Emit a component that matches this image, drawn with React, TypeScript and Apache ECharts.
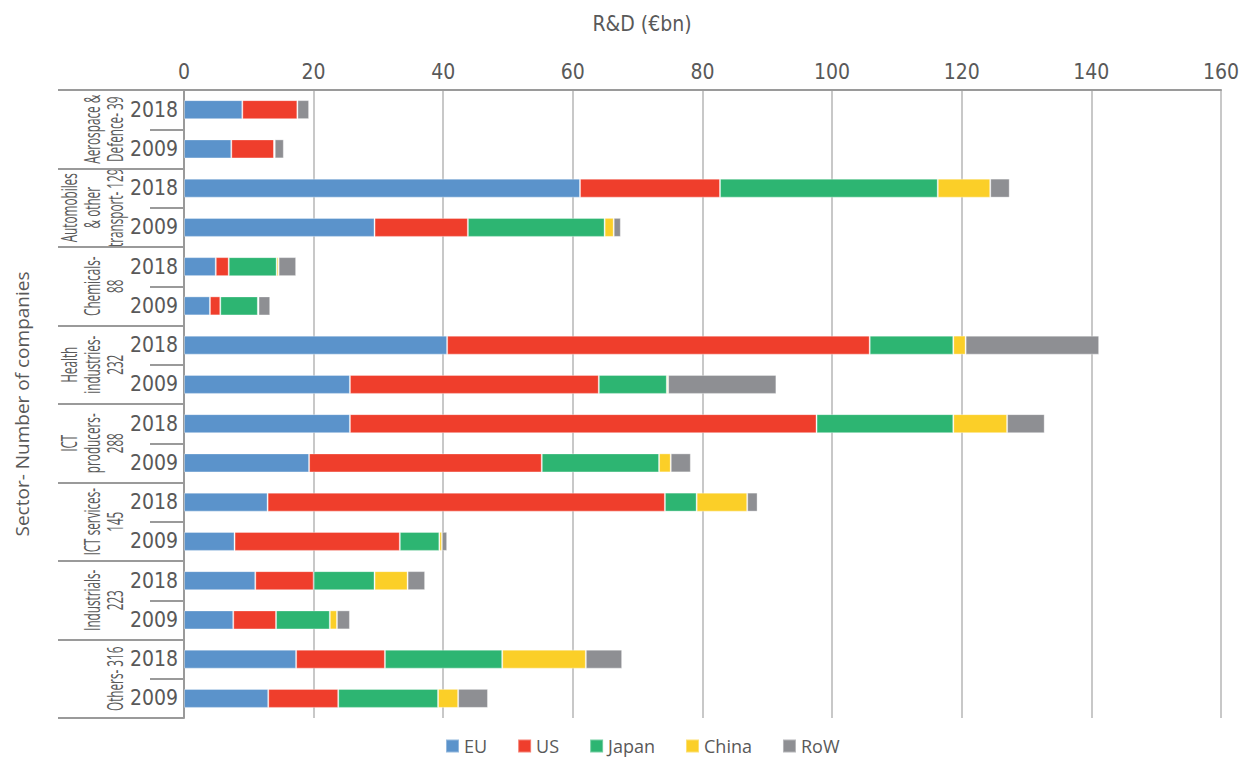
import React, { useEffect, useRef } from "react";
import * as echarts from "echarts";

const sectors = [
  "Aerospace &\nDefence- 39",
  "Automobiles\n& other\ntransport- 129",
  "Chemicals-\n88",
  "Health\nindustries-\n232",
  "ICT\nproducers-\n288",
  "ICT services-\n145",
  "Industrials-\n223",
  "Others- 316",
];
const years = ["2018", "2009"];
const rows = sectors.flatMap(() => years.map((y) => y));

// values per row: each sector 2018 then 2009
const eu = [9.0, 7.3, 61.1, 29.4, 4.9, 4.0, 40.6, 25.6, 25.6, 19.3, 12.9, 7.8, 11.0, 7.6, 17.3, 13.0];
const us = [8.5, 6.6, 21.6, 14.4, 2.0, 1.6, 65.2, 38.4, 72.0, 35.9, 61.3, 25.5, 9.0, 6.6, 13.7, 10.8];
const japan = [0, 0, 33.6, 21.1, 7.4, 5.8, 12.9, 10.5, 21.1, 18.1, 4.9, 6.1, 9.4, 8.3, 18.1, 15.4];
const china = [0, 0.1, 8.1, 1.4, 0.3, 0.1, 1.9, 0.2, 8.3, 1.8, 7.8, 0.4, 5.1, 1.1, 12.9, 3.1];
const rowW = [1.8, 1.4, 3.0, 1.1, 2.7, 1.8, 20.6, 16.7, 5.8, 3.1, 1.6, 0.8, 2.7, 2.0, 5.6, 4.6];

const seriesDefs = [
  { name: "EU", data: eu, color: "#5B93CB" },
  { name: "US", data: us, color: "#EF3E2C" },
  { name: "Japan", data: japan, color: "#2DB572" },
  { name: "China", data: china, color: "#FBCF28" },
  { name: "RoW", data: rowW, color: "#8E8F93" },
];

const condensed = '"Liberation Sans Narrow", "DejaVu Sans Condensed", "Roboto Condensed", Roboto, sans-serif';
const textColor = "#595959";
const gridLeft = 184;

export default function App() {
  const ref = useRef<HTMLDivElement>(null);
  useEffect(() => {
    document.body.style.margin = "0";
    const chart = echarts.init(ref.current!, null, { renderer: "svg" });
    chart.setOption({
      animation: false,
      backgroundColor: "#fff",
      title: {
        text: "R&D (€bn)",
        left: 637,
        top: 8,
        textAlign: "center",
        textStyle: { fontFamily: condensed, fontSize: 21, fontWeight: "normal", color: textColor },
      },
      grid: { left: gridLeft, right: 18, top: 90, bottom: 42, containLabel: false },
      legend: {
        bottom: 0,
        left: 440,
        itemWidth: 13,
        itemHeight: 13,
        itemGap: 30,
        icon: "rect",
        textStyle: { fontFamily: '"Open Sans", sans-serif', fontSize: 18, color: textColor },
        data: seriesDefs.map((s) => s.name),
      },
      xAxis: {
        type: "value",
        position: "top",
        min: 0,
        max: 160,
        interval: 20,
        axisLine: { show: true, lineStyle: { color: "#9a9a9a", width: 2 } },
        axisTick: { show: false },
        axisLabel: { fontFamily: condensed, fontSize: 21, color: textColor, margin: 8 },
        splitLine: { show: true, lineStyle: { color: "#c8c8c8", width: 2 } },
      },
      yAxis: [
        {
          type: "category",
          position: "left",
          inverse: true,
          data: rows,
          name: "Sector- Number of companies",
          nameLocation: "middle",
          nameGap: 153,
          nameRotate: 90,
          nameTextStyle: { fontFamily: '"Open Sans", sans-serif', fontSize: 19, color: textColor },
          axisLine: { show: true, lineStyle: { color: "#9a9a9a", width: 2 } },
          axisTick: { show: true, interval: 0, length: 34, lineStyle: { color: "#9a9a9a", width: 2 } },
          axisLabel: { interval: 0, fontFamily: condensed, fontSize: 21, color: textColor, margin: 6 },
        },
        {
          type: "category",
          position: "left",
          inverse: true,
          offset: 0,
          data: sectors,
          axisLine: { show: false },
          axisTick: { show: true, interval: 0, length: 126, lineStyle: { color: "#9a9a9a", width: 2 } },
          axisLabel: { show: false },
        },
      ],
      series: seriesDefs.map((s) => ({
        name: s.name,
        type: "bar",
        stack: "total",
        yAxisIndex: 0,
        barWidth: 19,
        data: s.data,
        itemStyle: { color: s.color, borderColor: "rgba(255,255,255,0.35)", borderWidth: 1 },
      })),
    });

    const labelX = gridLeft - 58;
    chart.setOption({
      graphic: sectors.map((s, i) => {
        const y = chart.convertToPixel({ yAxisIndex: 1 }, i) as number;
        return {
          type: "text",
          x: labelX,
          y,
          rotation: Math.PI / 2,
          scaleX: 0.56,
          scaleY: 1,
          silent: true,
          style: {
            text: s,
            fontFamily: '"Open Sans", sans-serif',
            fontSize: 21,
            lineHeight: 23,
            fill: textColor,
            align: "center",
            verticalAlign: "bottom",
          },
        };
      }),
    });
    return () => chart.dispose();
  }, []);
  return <div ref={ref} style={{ width: 1242, height: 760 }} />;
}
